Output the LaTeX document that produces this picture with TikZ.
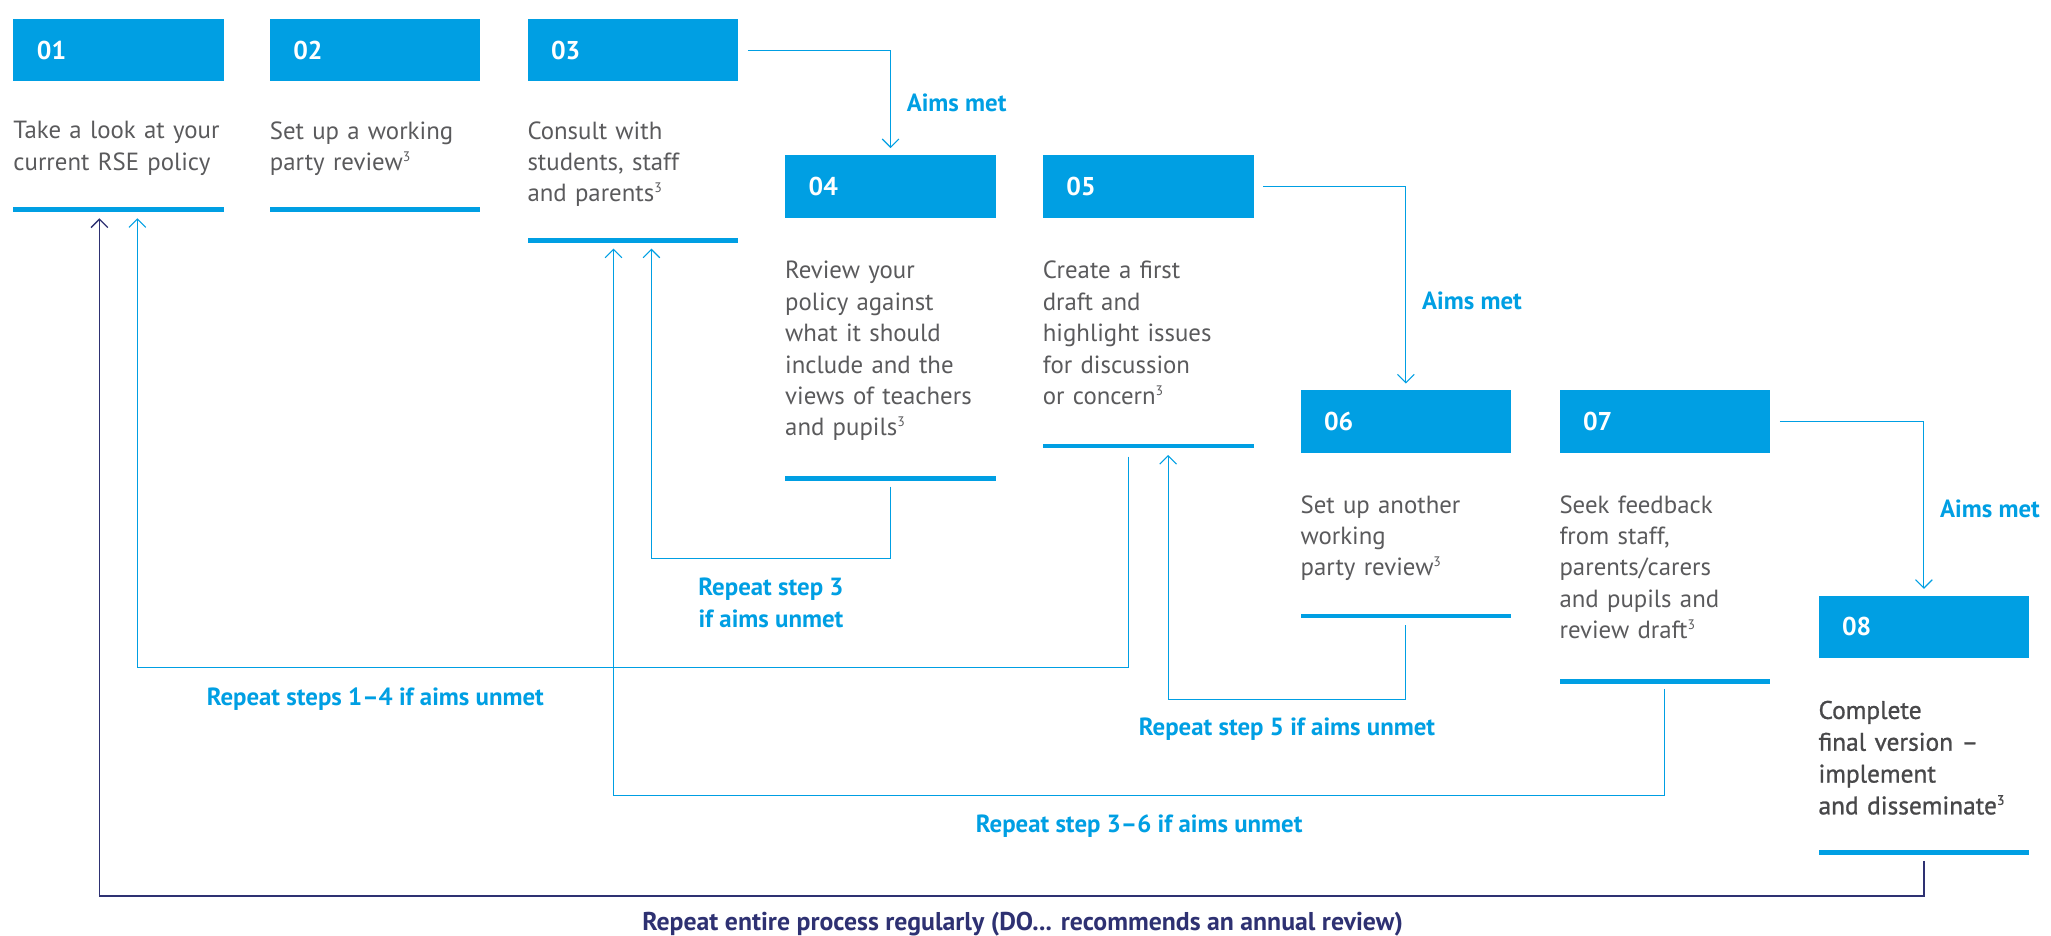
\documentclass[tikz,border=0pt]{standalone}
\usepackage{fontspec}
\setmainfont{PT Sans}
\newfontfamily\medfont[FakeBold=1, Ligatures=TeX]{PT Sans}
\usepackage{xcolor}
\usetikzlibrary{arrows.meta, positioning}

\definecolor{rseblue}{HTML}{009FE3}
\definecolor{rsenavy}{HTML}{2E3172}
\definecolor{rsegrey}{HTML}{5A5A5C}
\definecolor{rsedark}{HTML}{48484A}

\newcommand{\refmark}[1]{\raisebox{0.75ex}{\fontsize{7.5}{7.5}\selectfont #1}}

\tikzset{
    stepbox/.style={rectangle, fill=rseblue, anchor=north west, minimum width=4.025cm, minimum height=1.2cm,
        text width=3.125cm, inner xsep=0.45cm, inner ysep=0pt, align=left, text=white,
        font=\fontsize{14}{17}\selectfont\bfseries},
    steptext/.style={anchor=north west, inner sep=0pt, text width=4.1cm, align=left, text=rsegrey,
        font=\fontsize{13.5}{17.07}\selectfont},
    stepline/.style={rectangle, fill=rseblue, anchor=west, minimum width=4.025cm, minimum height=0.09cm, inner sep=0pt},
    metline/.style={rseblue, line width=0.6pt, -{Straight Barb[length=1.6mm, width=3.2mm]}},
    yearline/.style={rsenavy, line width=0.7pt, -{Straight Barb[length=1.6mm, width=3.2mm]}},
    note/.style={text=rseblue, inner sep=0pt, align=center, font=\fontsize{13.5}{17.07}\selectfont\bfseries},
}

\begin{document}
\begin{tikzpicture}[x=0.025cm, y=-0.025cm]
    \useasboundingbox (0,0) rectangle (1568,715);

    % numbered boxes
    \node[stepbox] (box1) at (10, 14) {01};
    \node[stepbox] (box2) at (206, 14) {02};
    \node[stepbox] (box3) at (403, 14) {03};
    \node[stepbox] (box4) at (600, 118) {04};
    \node[stepbox] (box5) at (797, 118) {05};
    \node[stepbox] (box6) at (994, 298) {06};
    \node[stepbox] (box7) at (1192, 298) {07};
    \node[stepbox] (box8) at (1390, 455) {08};

    % what to do at each step
    \node[steptext] (text1) at (10, 92.5) {Take a look at your\\current RSE policy};
    \node[steptext] (text2) at (206, 92.5) {Set up a working\\party review\refmark{3}};
    \node[steptext] (text3) at (403, 92.5) {Consult with\\students, staff\\and parents\refmark{3}};
    \node[steptext] (text4) at (600, 199.5) {Review your\\policy against\\what it should\\include and the\\views of teachers\\and pupils\refmark{3}};
    \node[steptext] (text5) at (797, 199.5) {Create a first\\draft and\\highlight issues\\for discussion\\or concern\refmark{3}};
    \node[steptext] (text6) at (994, 378.5) {Set up another\\working\\party review\refmark{3}};
    \node[steptext] (text7) at (1192, 378.5) {Seek feedback\\from staff,\\parents/carers\\and pupils and\\review draft\refmark{3}};
    \node[steptext, text=rsedark, font=\fontsize{13.8}{17.3}\medfont] (text8) at (1390, 535.5) {Complete\\final version –\\implement\\and disseminate\refmark{3}};

    % rules under the steps
    \node[stepline] (line1) at (10, 160) {};
    \node[stepline] (line2) at (206, 160) {};
    \node[stepline] (line3) at (403, 184) {};
    \node[stepline] (line4) at (600, 366) {};
    \node[stepline] (line5) at (797, 341) {};
    \node[stepline] (line6) at (994, 471) {};
    \node[stepline] (line7) at (1192, 521) {};
    \node[stepline] (line8) at (1390, 652) {};

    % aims met
    \draw[metline] ([xshift=0.18cm]box3.east) -| node[note, pos=0.767, anchor=west, xshift=0.3cm] {Aims met} ([yshift=0.12cm]box4.north);
    \draw[metline] ([xshift=0.18cm]box5.east) -| node[note, pos=0.79, anchor=west, xshift=0.3cm] {Aims met} ([yshift=0.12cm]box6.north);
    \draw[metline] ([xshift=0.18cm]box7.east) -| node[note, pos=0.76, anchor=west, xshift=0.3cm] {Aims met} ([yshift=0.12cm]box8.north);

    % aims unmet
    \draw[metline] ([yshift=-0.1cm]line4.south) -- ++(0,55)
        -| node[note, pos=0.25, below=0.365cm] {Repeat step 3\\if aims unmet} ([xshift=2.375cm, yshift=-0.1cm]line3.south west);
    \draw[metline] ([xshift=1.65cm, yshift=-0.15cm]line5.south west) -- ++(0,161)
        -| node[note, pos=0.38, below=0.39cm] {Repeat steps 1–4 if aims unmet} ([xshift=2.375cm, yshift=-0.12cm]line1.south west);
    \draw[metline] ([yshift=-0.12cm]line6.south) -- ++(0,57)
        -| node[note, pos=0.25, below=0.34cm] {Repeat step 5 if aims unmet} ([xshift=2.4cm, yshift=-0.12cm]line5.south west);
    \draw[metline] ([yshift=-0.1cm]line7.south) -- ++(0,81)
        -| node[note, pos=0.25, below=0.36cm] {Repeat step 3–6 if aims unmet} ([xshift=1.65cm, yshift=-0.1cm]line3.south west);
    \draw[yearline] ([yshift=-0.1cm]line8.south) -- ++(0,27)
        -| node[note, text=rsenavy, pos=0.247, below=0.29cm, font=\fontsize{14}{17}\selectfont\bfseries] {Repeat entire process regularly (DO... recommends an annual review)} ([xshift=1.65cm, yshift=-0.12cm]line1.south west);
\end{tikzpicture}
\end{document}
